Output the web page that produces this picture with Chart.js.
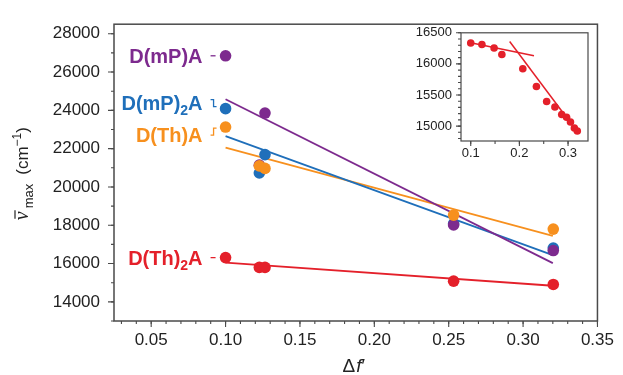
<!DOCTYPE html>
<html>
<head>
<meta charset="utf-8">
<script src="https://cdn.jsdelivr.net/npm/chart.js@4/dist/chart.umd.min.js"></script>
<style>
  body { margin: 0; background: #fff; }
  #wrap { position: relative; width: 623px; height: 375px; }
  #main { position: absolute; left: 0; top: 0; }
  #inset { position: absolute; left: 400px; top: 16px; }
</style>
</head>
<body>
<div id="wrap">
  <canvas id="main" width="623" height="375"></canvas>
  <canvas id="inset" width="200" height="150"></canvas>
</div>
<script>
// main plot: wavenumber vs solvent polarity
const xValues = [0.100, 0.1227, 0.1265, 0.2533, 0.3203];
const dmpa  = [26850, 21140, 23860, 18020, 16680];
const dmp2a = [24090, 20730, 21690, 18080, 16810];
const dtha  = [23130, 21100, 20970, 18530, 17800];
const dth2a = [16310, 15800, 15800, 15080, 14910];

// linear fits (end points)
const fitX = [0.10, 0.32];
const dmpaFit  = [24580, 16020];
const dmp2aFit = [22650, 16440];
const dthaFit  = [22060, 17450];
const dth2aFit = [16050, 14840];

const xTicks = [0.05, 0.10, 0.15, 0.20, 0.25, 0.30, 0.35];
const yTicks = [14000, 16000, 18000, 20000, 22000, 24000, 26000, 28000];

// inset: D(Th)2A in more solvents
const insetX = [0.100, 0.123, 0.148, 0.164, 0.207, 0.235, 0.256, 0.273, 0.287, 0.297, 0.305, 0.313, 0.319];
const insetY = [16335, 16311, 16255, 16150, 15921, 15636, 15396, 15306, 15186, 15141, 15066, 14970, 14920];
const insetFit1X = [0.10, 0.23];
const insetFit1Y = [16340, 16130];
const insetFit2X = [0.18, 0.315];
const insetFit2Y = [16360, 14950];
const insetXTicks = [0.1, 0.2, 0.3];
const insetYTicks = [15000, 15500, 16000, 16500];

const PURPLE = "#7d2a8e", BLUE = "#1f6fba", ORANGE = "#f7901e", RED = "#e4202a";
const SANS = "'Liberation Sans', Arial, Helvetica, sans-serif";

Chart.defaults.font.family = SANS;
Chart.defaults.color = "#222";

const pts = (xs, ys) => xs.map((x, i) => ({ x: x, y: ys[i] }));

function drawParts(ctx, parts, x, y, align) {
  let w = 0;
  parts.forEach(p => { ctx.font = p.font; p.w = ctx.measureText(p.t).width + (p.gap || 0); w += p.w; });
  let cx = align === "right" ? x - w : align === "center" ? x - w / 2 : x;
  const start = cx;
  parts.forEach(p => { ctx.font = p.font; ctx.fillText(p.t, cx + (p.gap || 0), y + (p.dy || 0)); cx += p.w; });
  return start;
}

// frame + outward major/minor ticks
const axisFrame = {
  id: "axisFrame",
  afterDraw(chart, args, o) {
    const ctx = chart.ctx, a = chart.chartArea;
    const xs = chart.scales.x, ys = chart.scales.y;
    ctx.save();
    ctx.strokeStyle = o.color;
    ctx.lineWidth = o.width;
    ctx.strokeRect(a.left, a.top, a.right - a.left, a.bottom - a.top);
    ctx.lineWidth = 1.1;
    const marks = (scale, step, len) => {
      const n0 = Math.ceil(scale.min / step - 1e-6), n1 = Math.floor(scale.max / step + 1e-6);
      ctx.beginPath();
      for (let n = n0; n <= n1; n++) {
        const p = scale.getPixelForValue(n * step);
        if (scale.isHorizontal()) { ctx.moveTo(p, a.bottom); ctx.lineTo(p, a.bottom + len); }
        else { ctx.moveTo(a.left - len, p); ctx.lineTo(a.left, p); }
      }
      ctx.stroke();
    };
    marks(xs, o.xMinor, o.minorLen);
    marks(xs, o.xMajor, o.majorLen);
    marks(ys, o.yMinor, o.minorLen);
    marks(ys, o.yMajor, o.majorLen);
    ctx.restore();
  }
};

// titles and series names for the main plot
const mainText = {
  id: "mainText",
  afterDraw(chart) {
    const ctx = chart.ctx, a = chart.chartArea;
    const xs = chart.scales.x, ys = chart.scales.y;
    ctx.save();
    ctx.fillStyle = "#222";
    ctx.textBaseline = "alphabetic";

    // x title
    drawParts(ctx, [
      { t: "Δ", font: "19px " + SANS },
      { t: "f", font: "italic 19px " + SANS, gap: 1 },
      { t: "′", font: "19px " + SANS }
    ], (a.left + a.right) / 2 - 2, 372, "center");

    // y title
    ctx.save();
    ctx.translate(28, (a.top + a.bottom) / 2 + 1);
    ctx.rotate(-Math.PI / 2);
    const nuFont = "italic 20px 'Liberation Serif', 'DejaVu Serif', serif";
    const start = drawParts(ctx, [
      { t: "ν", font: nuFont },
      { t: "max", font: "13px " + SANS, dy: 5, gap: 3 },
      { t: "(cm", font: "17px " + SANS, gap: 9 },
      { t: "−1", font: "12px " + SANS, dy: -7 },
      { t: ")", font: "17px " + SANS }
    ], 0, 0, "center");
    ctx.font = nuFont;
    const nw = ctx.measureText("ν").width;
    ctx.strokeStyle = "#222";
    ctx.lineWidth = 1.2;
    ctx.beginPath();
    ctx.moveTo(start + 1.5, -13);
    ctx.lineTo(start + nw + 1, -13);
    ctx.stroke();
    ctx.restore();

    // series names next to the first point of each series
    const x0 = xs.getPixelForValue(xValues[0]);
    const big = "bold 20px " + SANS, sub = "bold 14px " + SANS;
    const names = [
      { c: PURPLE, y: dmpa[0], off: 7, parts: [{ t: "D(mP)A", font: big }], lead: "dash" },
      { c: BLUE, y: dmp2a[0], off: 1, parts: [{ t: "D(mP)", font: big }, { t: "2", font: sub, dy: 5 }, { t: "A", font: big }], lead: "down" },
      { c: ORANGE, y: dtha[0], off: 15, parts: [{ t: "D(Th)A", font: big }], lead: "up" },
      { c: RED, y: dth2a[0], off: 7, parts: [{ t: "D(Th)", font: big }, { t: "2", font: sub, dy: 5 }, { t: "A", font: big }], lead: "dash" }
    ];
    names.forEach(n => {
      const py = ys.getPixelForValue(n.y);
      ctx.fillStyle = n.c;
      drawParts(ctx, n.parts, x0 - 23, py + n.off, "right");
      ctx.strokeStyle = n.c;
      ctx.lineWidth = 1.3;
      ctx.beginPath();
      if (n.lead === "dash") {
        ctx.moveTo(x0 - 15, py); ctx.lineTo(x0 - 10, py);
      } else if (n.lead === "down") {
        ctx.moveTo(x0 - 15, py - 9); ctx.lineTo(x0 - 12, py - 9);
        ctx.lineTo(x0 - 12, py - 2); ctx.lineTo(x0 - 9, py - 2);
      } else {
        ctx.moveTo(x0 - 15, py + 8); ctx.lineTo(x0 - 12, py + 8);
        ctx.lineTo(x0 - 12, py + 1); ctx.lineTo(x0 - 9, py + 1);
      }
      ctx.stroke();
    });
    ctx.restore();
  }
};

function scatterSet(data, color, order, r) {
  return { data: data, backgroundColor: color, borderColor: color, borderWidth: 0,
           pointRadius: r, showLine: false, order: order };
}
function lineSet(data, color, order, w) {
  return { data: data, borderColor: color, borderWidth: w, pointRadius: 0,
           showLine: true, fill: false, order: order };
}

document.addEventListener("DOMContentLoaded", () => {
  new Chart(document.getElementById("main").getContext("2d"), {
    type: "scatter",
    data: {
      datasets: [
        scatterSet(pts(xValues, dtha), ORANGE, 1, 5.8),
        scatterSet(pts(xValues, dmpa), PURPLE, 2, 5.8),
        scatterSet(pts(xValues, dmp2a), BLUE, 3, 5.8),
        scatterSet(pts(xValues, dth2a), RED, 4, 5.8),
        lineSet(pts(fitX, dmpaFit), PURPLE, 10, 1.8),
        lineSet(pts(fitX, dmp2aFit), BLUE, 11, 1.8),
        lineSet(pts(fitX, dthaFit), ORANGE, 12, 1.8),
        lineSet(pts(fitX, dth2aFit), RED, 13, 1.8)
      ]
    },
    options: {
      responsive: false,
      animation: false,
      devicePixelRatio: 1,
      layout: { padding: { top: 13, right: 20, left: 0, bottom: 0 } },
      plugins: {
        legend: { display: false },
        tooltip: { enabled: false },
        axisFrame: { color: "#4a4a4a", width: 1.5, xMajor: 0.05, xMinor: 0.01, yMajor: 2000, yMinor: 1000, majorLen: 6, minorLen: 3 }
      },
      scales: {
        x: {
          type: "linear", min: 0.025, max: 0.35,
          grid: { display: false, drawTicks: false },
          border: { display: false },
          afterBuildTicks: s => { s.ticks = xTicks.map(v => ({ value: v })); },
          afterFit: s => { s.height = 54; },
          ticks: { padding: 9, font: { size: 17 }, callback: v => v.toFixed(2) }
        },
        y: {
          type: "linear", min: 13000, max: 28500,
          grid: { display: false, drawTicks: false },
          border: { display: false },
          afterBuildTicks: s => { s.ticks = yTicks.map(v => ({ value: v })); },
          afterFit: s => { s.width = 114; },
          ticks: { padding: 14, font: { size: 17 }, callback: v => String(v) }
        }
      }
    },
    plugins: [axisFrame, mainText]
  });

  new Chart(document.getElementById("inset").getContext("2d"), {
    type: "scatter",
    data: {
      datasets: [
        scatterSet(pts(insetX, insetY), RED, 1, 3.8),
        lineSet(pts(insetFit1X, insetFit1Y), RED, 2, 1.5),
        lineSet(pts(insetFit2X, insetFit2Y), RED, 3, 1.5)
      ]
    },
    options: {
      responsive: false,
      animation: false,
      devicePixelRatio: 1,
      layout: { padding: { top: 9, right: 12, left: 0, bottom: 0 } },
      plugins: {
        legend: { display: false },
        tooltip: { enabled: false },
        axisFrame: { color: "#4a4a4a", width: 1.2, xMajor: 0.1, xMinor: 0.05, yMajor: 500, yMinor: 100, majorLen: 5, minorLen: 3 }
      },
      scales: {
        x: {
          type: "linear", min: 0.08, max: 0.341,
          grid: { display: false, drawTicks: false },
          border: { display: false },
          afterBuildTicks: s => { s.ticks = insetXTicks.map(v => ({ value: v })); },
          afterFit: s => { s.height = 25; },
          ticks: { padding: 5, font: { size: 13 }, callback: v => v.toFixed(1) }
        },
        y: {
          type: "linear", min: 14760, max: 16500,
          grid: { display: false, drawTicks: false },
          border: { display: false },
          afterBuildTicks: s => { s.ticks = insetYTicks.map(v => ({ value: v })); },
          afterFit: s => { s.width = 61; },
          ticks: { padding: 9, font: { size: 13 }, callback: v => String(v) }
        }
      }
    },
    plugins: [axisFrame]
  });
});
</script>
</body>
</html>
